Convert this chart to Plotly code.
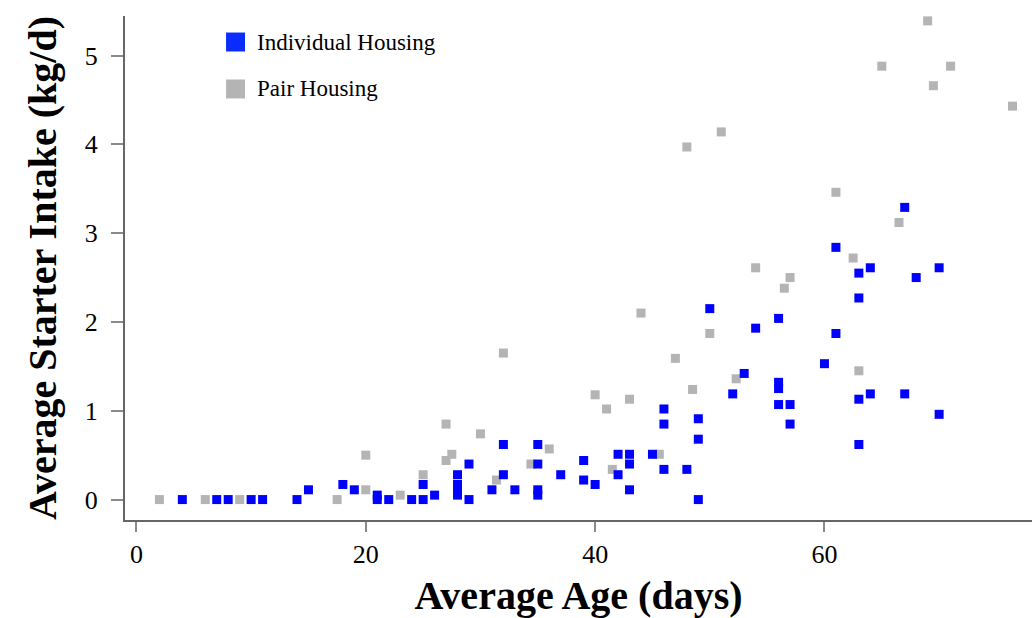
import plotly.graph_objects as go

# Individual housing (blue)
ind_age = [4, 7, 8, 10, 11, 14, 15, 18, 19, 21, 21, 22, 24, 25, 25, 26,
           28, 28, 28, 28, 29, 29, 31, 32, 32, 33, 35, 35, 35, 35, 37, 39, 39,
           40, 42, 42, 43, 43, 43, 45, 46, 46, 46, 48, 49, 49, 49, 50, 52, 53,
           54, 56, 56, 56, 56, 57, 57, 60, 61, 61, 63, 63, 63, 63, 64, 64, 67,
           67, 68, 70, 70]
ind_intake = [0, 0, 0, 0, 0, 0, 0.11, 0.17, 0.11, 0.05, 0, 0, 0, 0, 0.17, 0.05,
              0.28, 0.17, 0.11, 0.05, 0.40, 0, 0.11, 0.62, 0.28, 0.11, 0.62, 0.40, 0.11, 0.05, 0.28, 0.44, 0.22,
              0.17, 0.51, 0.28, 0.51, 0.40, 0.11, 0.51, 1.02, 0.85, 0.34, 0.34, 0.91, 0.68, 0, 2.15, 1.19, 1.42,
              1.93, 2.04, 1.32, 1.25, 1.07, 1.07, 0.85, 1.53, 2.84, 1.87, 2.55, 2.27, 1.13, 0.62, 2.61, 1.19, 3.29,
              1.19, 2.50, 2.61, 0.96]

# Pair housing (grey)
pair_age = [2, 6, 9, 17.5, 20, 20, 23, 25, 27, 27, 27.5, 30, 31.4, 32, 34.4, 36,
            40, 41, 41.5, 43, 44, 45.6, 47, 48, 48.5, 50, 51, 52.3, 54, 56.5, 57,
            61, 62.5, 63, 65, 66.5, 69, 69.5, 71, 76.4]
pair_intake = [0, 0, 0, 0, 0.50, 0.11, 0.05, 0.28, 0.85, 0.44, 0.51, 0.74, 0.22, 1.65, 0.40, 0.57,
               1.18, 1.02, 0.34, 1.13, 2.10, 0.51, 1.59, 3.97, 1.24, 1.87, 4.14, 1.36, 2.61, 2.38, 2.50,
               3.46, 2.72, 1.45, 4.88, 3.12, 5.39, 4.66, 4.88, 4.43]

series_names = ["Individual Housing", "Pair Housing"]
x_ticks = [0, 20, 40, 60]
y_ticks = [0, 1, 2, 3, 4, 5]

BLUE = "#0000ff"
GREY = "#b4b4b4"
SERIF = "Liberation Serif, Times New Roman, serif"

fig = go.Figure()
fig.add_trace(go.Scatter(
    x=pair_age, y=pair_intake, mode="markers", name=series_names[1],
    marker=dict(symbol="square", size=9, color=GREY, line=dict(width=0))))
fig.add_trace(go.Scatter(
    x=ind_age, y=ind_intake, mode="markers", name=series_names[0],
    marker=dict(symbol="square", size=9, color=BLUE, line=dict(width=0))))

# legend drawn as keys + labels (large square keys as in the reference)
legend_colors = ["#0a2cff", GREY]
legend_y = [0.9484, 0.8552]
shapes = []
annotations = []
for name, col, yc in zip(series_names, legend_colors, legend_y):
    shapes.append(dict(type="rect", xref="paper", yref="paper",
                       x0=0.1114, x1=0.1323, y0=yc - 0.0188, y1=yc + 0.0188,
                       fillcolor=col, line=dict(width=0)))
    annotations.append(dict(text=name, xref="paper", yref="paper",
                            x=0.1433, y=yc, xanchor="left", yanchor="middle",
                            showarrow=False,
                            font=dict(family=SERIF, size=23, color="black")))

fig.update_layout(
    width=1032, height=618,
    margin=dict(l=125, r=0, t=16, b=98),
    paper_bgcolor="white", plot_bgcolor="white",
    font=dict(family=SERIF, color="black"),
    showlegend=False,
    shapes=shapes,
    annotations=annotations,
    xaxis=dict(range=[-1.0, 78.1], tickvals=x_ticks, showgrid=False, zeroline=False,
               showline=True, linecolor="#666666", linewidth=2,
               ticks="outside", ticklen=10, tickwidth=2, tickcolor="#8a8a8a",
               ticklabelstandoff=0,
               tickfont=dict(family=SERIF, size=26, color="black"),
               title=dict(text="<b>Average Age (days)</b>", standoff=16,
                          font=dict(family=SERIF, size=40, color="black"))),
    yaxis=dict(range=[-0.23, 5.445], tickvals=y_ticks, showgrid=False, zeroline=False,
               showline=True, linecolor="#666666", linewidth=2,
               ticks="outside", ticklen=12, tickwidth=2, tickcolor="#8a8a8a",
               ticklabelstandoff=8,
               tickfont=dict(family=SERIF, size=26, color="black"),
               title=dict(text="<b>Average Starter Intake (kg/d)</b>", standoff=16,
                          font=dict(family=SERIF, size=40, color="black"))),
)

fig.write_html("out.html",
               config={"displayModeBar": False},
               post_script="document.body.style.margin='0';document.body.style.overflow='hidden';")
